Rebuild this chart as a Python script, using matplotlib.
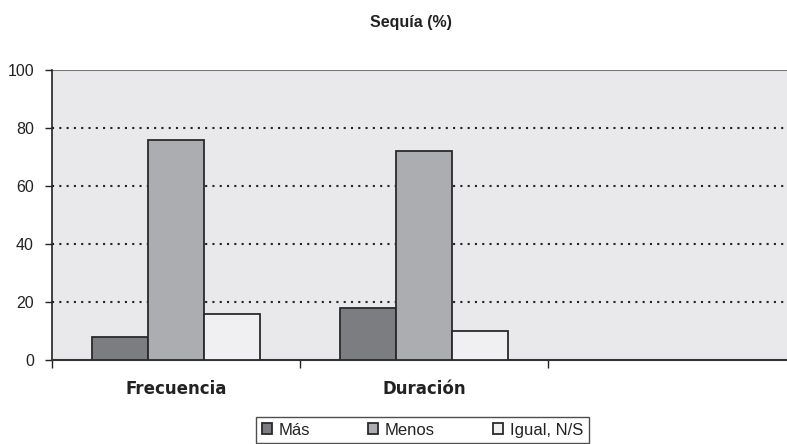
import numpy as np
from matplotlib import pyplot as plt

# drought survey answers, percent
categorias = ["Frecuencia", "Duración", ""]
mas = [8, 18, 0]
menos = [76, 72, 0]
igual = [16, 10, 0]
series = ["Más", "Menos", "Igual, N/S"]

plt.rcParams['font.family'] = ['Liberation Sans', 'DejaVu Sans']

fig = plt.figure(figsize=(7.87, 4.44), dpi=100)
ax = fig.add_axes([0.066, 0.189, 0.934, 0.653])
ax.set_facecolor('#e9e9eb')

x = np.arange(len(categorias))
w = 0.226
colores = ['#7b7d81', '#abadb1', '#f0f0f2']
for i, (vals, col, lab) in enumerate(zip([mas, menos, igual], colores, series)):
    ax.bar(x[:2] + (i - 1) * w, vals[:2], width=w, color=col,
           edgecolor='#2a2a2a', linewidth=1.3, label=lab, zorder=3)

ax.set_ylim(0, 100)
ax.set_xlim(-0.5, 2.464)
ax.set_yticks(range(0, 101, 20))
ax.tick_params(axis='y', labelsize=11.5, length=5, width=1, pad=8, colors='#222222')

# dotted grid lines, solid grey line at the top
for yv in [20, 40, 60, 80]:
    ax.axhline(yv, color='#222222', linestyle=(0, (1, 2.5)), linewidth=1.5, zorder=2)
ax.axhline(100, color='#777777', linewidth=1.5, zorder=2)

# category separators as ticks, labels centred under each group
ax.set_xticks([-0.5, 0.5, 1.5])
ax.set_xticklabels([])
ax.tick_params(axis='x', length=6, width=1, direction='out', colors='#222222')
ax.set_xticks(x, minor=True)
ax.set_xticklabels(categorias, minor=True, fontweight='bold', fontsize=12,
                   family='DejaVu Sans', color='#222222')
ax.tick_params(axis='x', which='minor', length=0, pad=14)

for s in ['top', 'right']:
    ax.spines[s].set_visible(False)
ax.spines['left'].set_color('#222222')
ax.spines['bottom'].set_color('#333333')
ax.spines['left'].set_linewidth(1.2)
ax.spines['bottom'].set_linewidth(1.5)

fig.text(0.522, 0.95, "Sequía (%)", ha='center', va='center', fontweight='bold', fontsize=11.5, color='#222222')

leg = fig.legend(loc='center', bbox_to_anchor=(0.537, 0.0315), ncol=3, fontsize=12,
                 frameon=True, fancybox=False, edgecolor='#222222', handlelength=0.6,
                 handleheight=0.6, handletextpad=0.4, columnspacing=3.5,
                 borderpad=0.35, borderaxespad=0.2, labelcolor='#222222')
leg.get_frame().set_linewidth(1.0)

plt.savefig('out.png', dpi=100)
